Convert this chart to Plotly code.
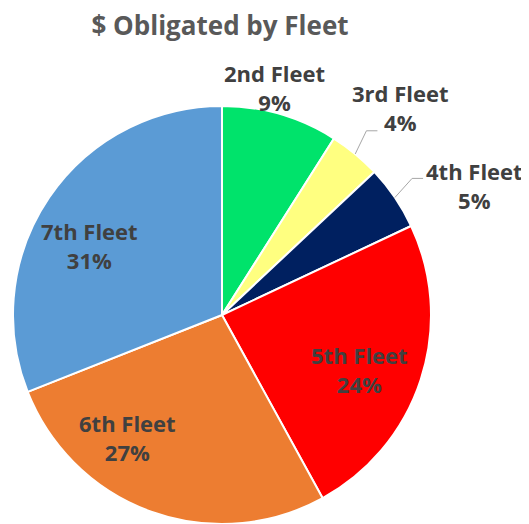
import math
import plotly.graph_objects as go

labels = ["2nd Fleet", "3rd Fleet", "4th Fleet", "5th Fleet", "6th Fleet", "7th Fleet"]
values = [9, 4, 5, 24, 27, 31]
colors = ["#00e36b", "#ffff80", "#002060", "#ff0000", "#ed7d31", "#5b9bd5"]

# label placement (layout only): angle offset from slice middle (deg), radius as fraction of R
label_angle_offset = [-3.3, 1.1, 7.1, 3.7, 18.0, -6.3]
label_radius = [1.115, 1.31, 1.355, 0.71, 0.74, 0.715]
leader = [False, True, True, False, False, False]

W, H = 529, 524
OFF = 8.0  # page body margin
cx, cy, R = 222.0 - OFF, 315.0 - OFF, 209.0

fig = go.Figure(go.Pie(
    labels=labels,
    values=values,
    sort=False,
    direction="clockwise",
    rotation=0,
    marker=dict(colors=colors, line=dict(color="white", width=2)),
    textinfo="none",
    domain=dict(x=[(cx - R) / W, (cx + R) / W], y=[(H - cy - R) / H, (H - cy + R) / H]),
    showlegend=False,
    hoverinfo="label+percent",
))

def to_paper(px, py):
    return px / W, 1 - py / H

def polar(angle_deg, r):
    a = math.radians(angle_deg)
    return cx + r * math.sin(a), cy - r * math.cos(a)

total = sum(values)
cum = 0
annotations = []
shapes = []
font = dict(family="Open Sans, sans-serif", size=22, color="#404040")
for i, (lab, v) in enumerate(zip(labels, values)):
    mid = (cum + v / 2) / total * 360
    cum += v
    pct = round(v / total * 100)
    lx, ly = polar(mid + label_angle_offset[i], R * label_radius[i])
    xp, yp = to_paper(lx, ly)
    annotations.append(dict(
        x=xp, y=yp, xref="paper", yref="paper", showarrow=False,
        text=f"<b>{lab}</b><br><b>{pct}%</b>", font=font, align="center",
        xanchor="center", yanchor="middle",
    ))
    if leader[i]:
        sx, sy = polar(mid, R * 1.0)
        ex, ey = polar(mid - 1.5, R * 1.12)
        hx = ex + 11
        p = [to_paper(sx, sy), to_paper(ex, ey), to_paper(hx, ey)]
        shapes.append(dict(
            type="path", xref="paper", yref="paper",
            path=f"M {p[0][0]} {p[0][1]} L {p[1][0]} {p[1][1]} L {p[2][0]} {p[2][1]}",
            line=dict(color="#a6a6a6", width=1),
        ))

fig.update_layout(
    width=W, height=H,
    margin=dict(l=0, r=0, t=0, b=0),
    paper_bgcolor="white",
    annotations=annotations,
    shapes=shapes,
    title=dict(text="<b>$ Obligated by Fleet</b>", x=(220 - OFF) / W, xanchor="center",
               y=1 - (26 - OFF) / H, yanchor="middle",
               font=dict(family="Open Sans, sans-serif", size=26, color="#595959")),
)

fig.write_html("out.html")
